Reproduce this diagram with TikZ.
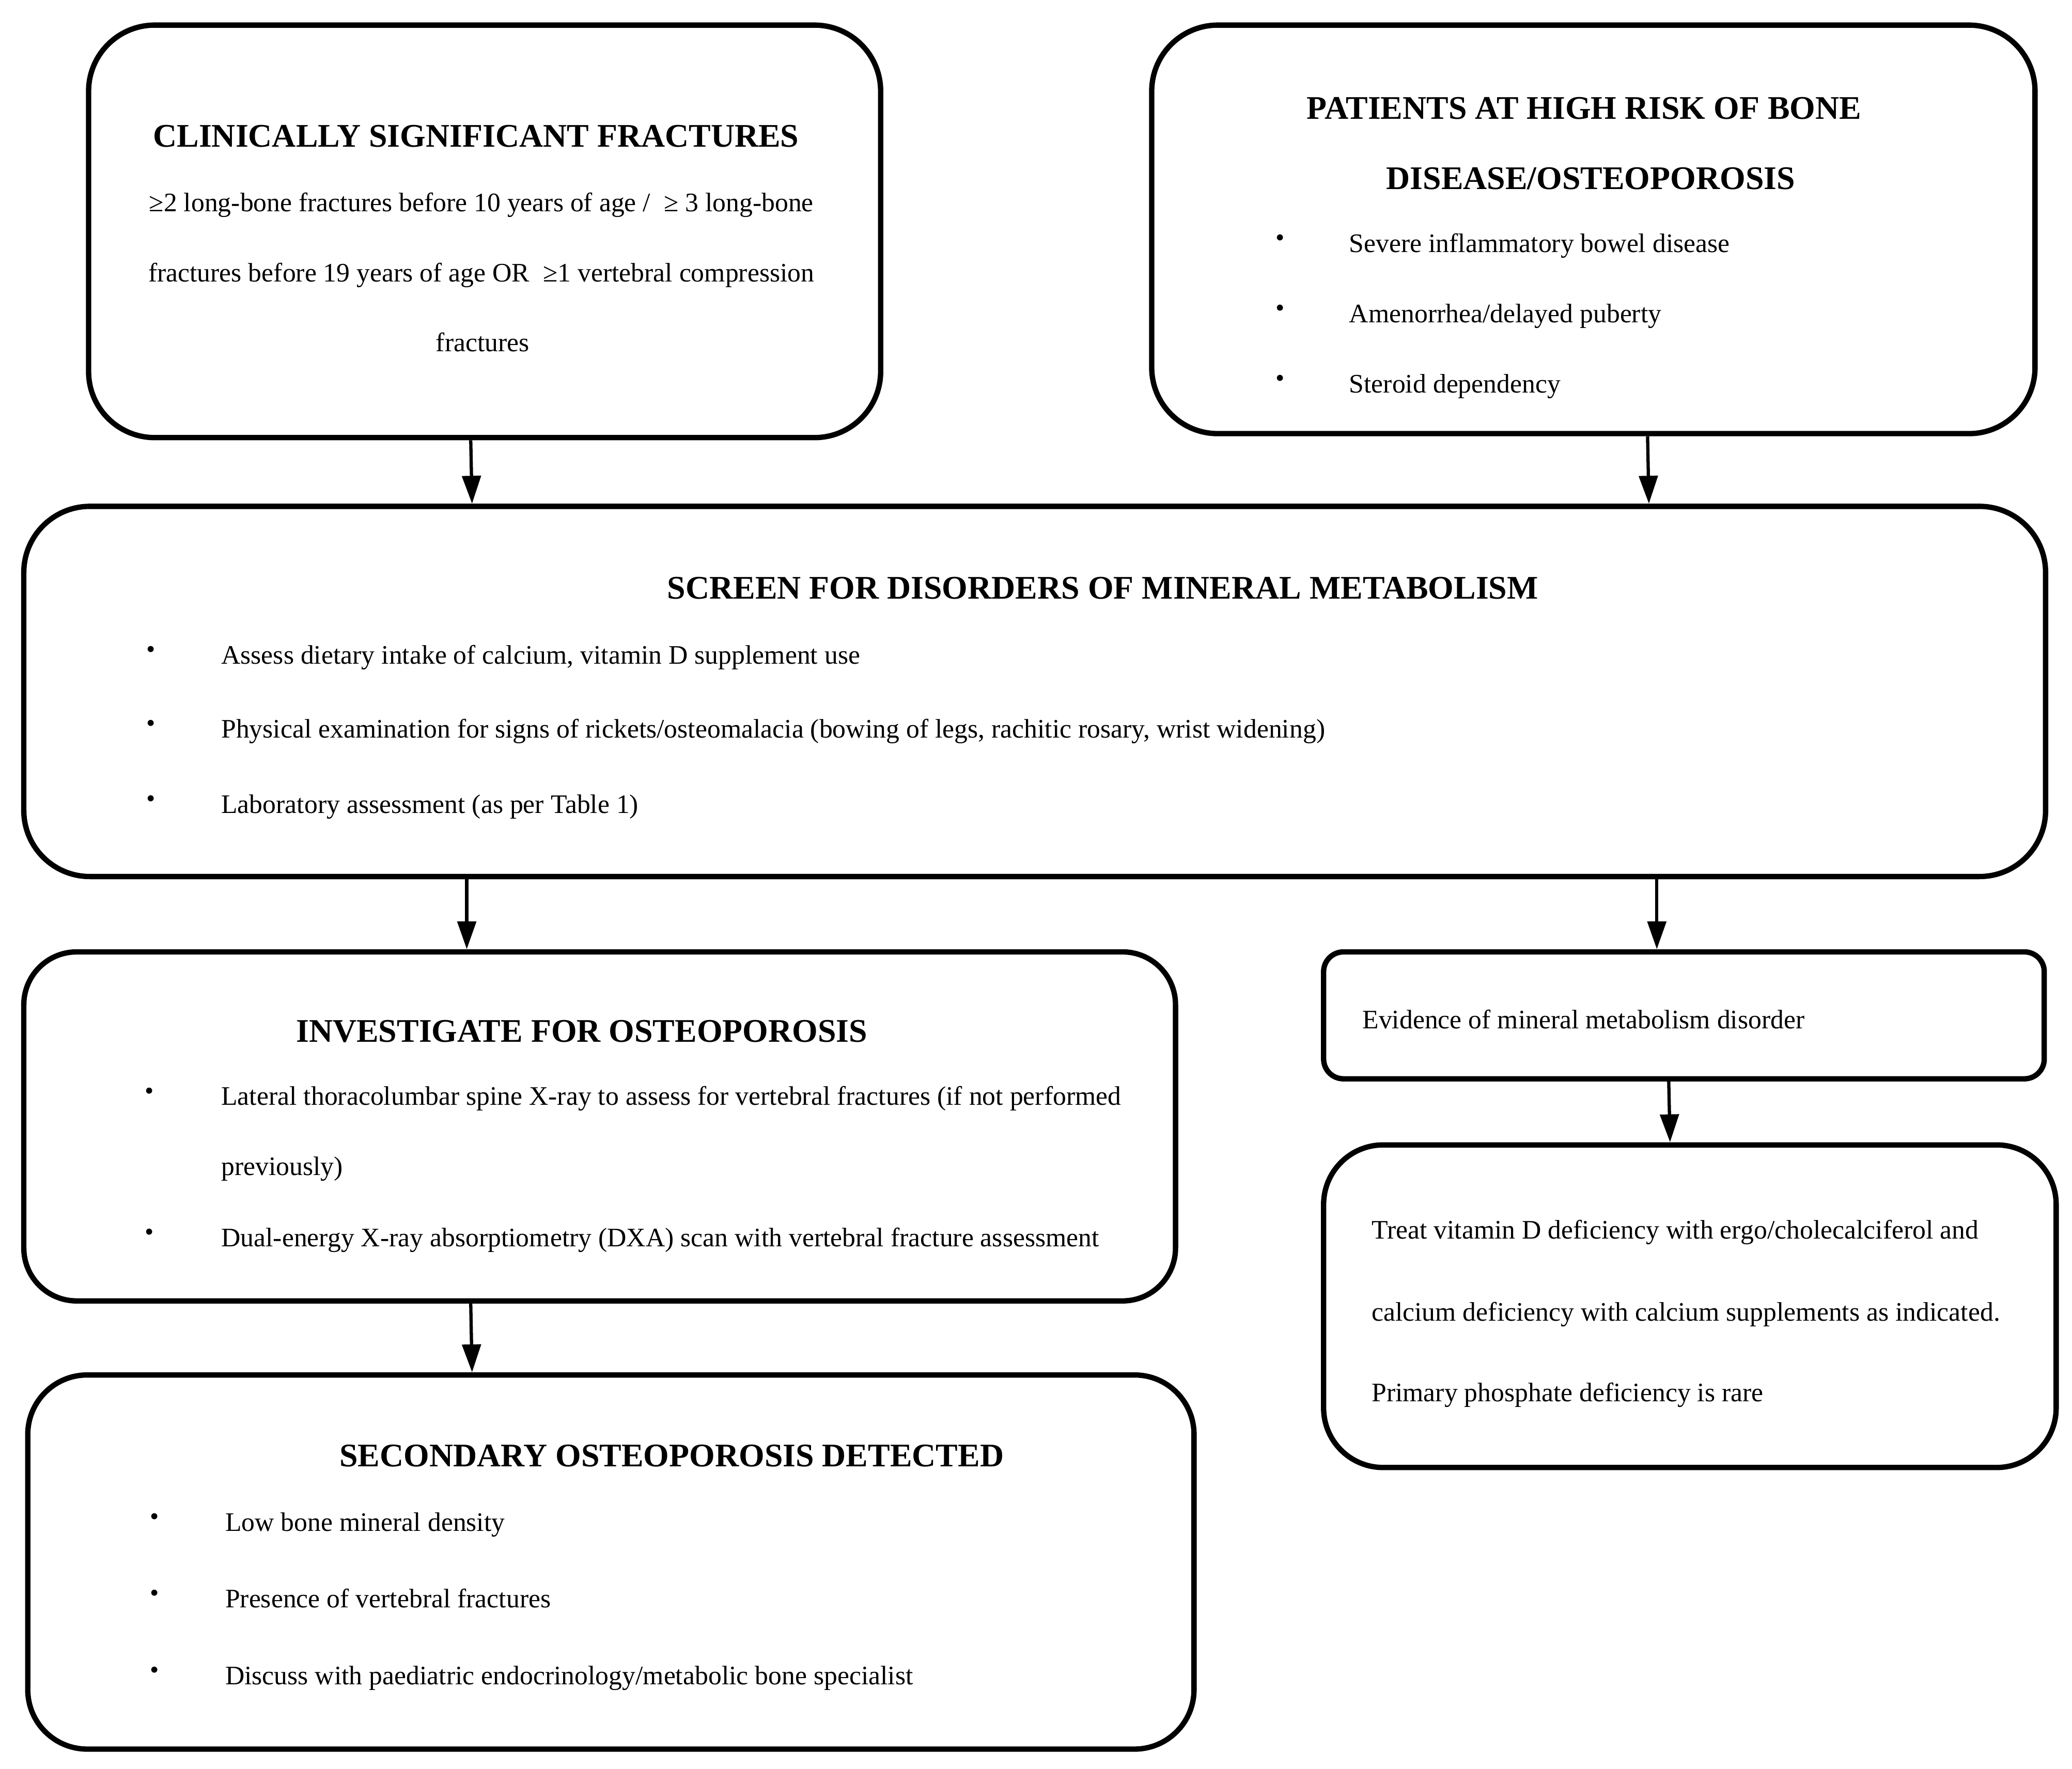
\documentclass[tikz,border=0pt]{standalone}
\usepackage{fontspec}
\setmainfont{Liberation Serif}
\usetikzlibrary{arrows.meta}
\begin{document}
\begin{tikzpicture}[x=0.02cm,y=-0.02cm,
  box/.style={draw,line width=2.3pt,inner sep=0pt},
  txt/.style={inner sep=0pt,font=\fontsize{11.5}{13}\selectfont},
  ttl/.style={inner sep=0pt,font=\fontsize{14.2}{16}\selectfont\bfseries},
  bul/.style={inner sep=0pt,font=\fontsize{11}{12}\selectfont},
  arr/.style={line width=1.4pt,-{Triangle[length=12pt,width=8pt]}}]
\useasboundingbox (0,0) rectangle (1567,1338);
\newcommand{\mybox}[6]{%
  \node[box,rounded corners=#6,minimum width={(#4-#2)*0.02cm},minimum height={(#5-#3)*0.02cm}]
    (#1) at ({(#2+#4)/2},{(#3+#5)/2}) {};}
\mybox{b1}{67}{19}{666}{331}{1cm}
\mybox{b2}{871}{19}{1539}{328}{1cm}
\mybox{b3}{18}{383}{1547}{663}{1cm}
\mybox{b4}{18}{720}{889}{984}{0.8cm}
\mybox{b5}{1001}{720}{1546}{816}{0.3cm}
\mybox{b6}{1001}{866}{1555}{1110}{0.9cm}
\mybox{b7}{21}{1040}{903}{1323}{0.9cm}
% box 1
\node[ttl] (h1) at (360,103) {CLINICALLY SIGNIFICANT FRACTURES};
\node[txt,anchor=mid] (t11) at (364,156) {≥2 long-bone fractures before 10 years of age /\ \ ≥ 3 long-bone};
\node[txt,anchor=mid] (t12) at (364,209) {fractures before 19 years of age OR\ \ ≥1 vertebral compression};
\node[txt,anchor=mid] (t13) at (365,262) {fractures};
% box 2
\node[ttl] (h2a) at (1198,82) {PATIENTS AT HIGH RISK OF BONE};
\node[ttl] (h2b) at (1203,135) {DISEASE/OSTEOPOROSIS};
\node[bul] (d21) at (968,182) {•};
\node[txt,anchor=mid west] (t21) at (1020,187) {Severe inflammatory bowel disease};
\node[bul] (d22) at (968,235) {•};
\node[txt,anchor=mid west] (t22) at (1020,240) {Amenorrhea/delayed puberty};
\node[bul] (d23) at (968,288) {•};
\node[txt,anchor=mid west] (t23) at (1020,293) {Steroid dependency};
% box 3
\node[ttl] (h3) at (834,445) {SCREEN FOR DISORDERS OF MINERAL METABOLISM};
\node[bul] (d31) at (114,493) {•};
\node[txt,anchor=mid west] (t31) at (167,498) {Assess dietary intake of calcium, vitamin D supplement use};
\node[bul] (d32) at (114,549) {•};
\node[txt,anchor=mid west] (t32) at (167,554) {Physical examination for signs of rickets/osteomalacia (bowing of legs, rachitic rosary, wrist widening)};
\node[bul] (d33) at (114,606) {•};
\node[txt,anchor=mid west] (t33) at (167,611) {Laboratory assessment (as per Table 1)};
% box 4
\node[ttl] (h4) at (440,780) {INVESTIGATE FOR OSTEOPOROSIS};
\node[bul] (d41) at (113,827) {•};
\node[txt,anchor=mid west] (t41) at (167,832) {Lateral thoracolumbar spine X-ray to assess for vertebral fractures (if not performed};
\node[txt,anchor=mid west] (t42) at (167,885) {previously)};
\node[bul] (d43) at (113,934) {•};
\node[txt,anchor=mid west] (t43) at (167,939) {Dual-energy X-ray absorptiometry (DXA) scan with vertebral fracture assessment};
% box 5
\node[txt,anchor=mid west] (t51) at (1030,774) {Evidence of mineral metabolism disorder};
% box 6
\node[txt,anchor=mid west] (t61) at (1037,933) {Treat vitamin D deficiency with ergo/cholecalciferol and};
\node[txt,anchor=mid west] (t62) at (1037,995) {calcium deficiency with calcium supplements as indicated.};
\node[txt,anchor=mid west] (t63) at (1037,1056) {Primary phosphate deficiency is rare};
% box 7
\node[ttl] (h7) at (508,1101) {SECONDARY OSTEOPOROSIS DETECTED};
\node[bul] (d71) at (117,1149) {•};
\node[txt,anchor=mid west] (t71) at (170,1154) {Low bone mineral density};
\node[bul] (d72) at (117,1207) {•};
\node[txt,anchor=mid west] (t72) at (170,1212) {Presence of vertebral fractures};
\node[bul] (d73) at (117,1265) {•};
\node[txt,anchor=mid west] (t73) at (170,1270) {Discuss with paediatric endocrinology/metabolic bone specialist};
% connectors
\coordinate (x356) at (356,0);
\coordinate (x357) at (357,0);
\coordinate (x1246) at (1246,0);
\coordinate (x1247) at (1247,0);
\coordinate (x353) at (353,0);
\coordinate (x1253) at (1253,0);
\coordinate (x1262) at (1262,0);
\coordinate (x1263) at (1263,0);
\draw[arr] (b1.south -| x356) -- (b3.north -| x357);
\draw[arr] (b2.south -| x1246) -- (b3.north -| x1247);
\draw[arr] (b3.south -| x353) -- (b4.north -| x353);
\draw[arr] (b3.south -| x1253) -- (b5.north -| x1253);
\draw[arr] (b5.south -| x1262) -- (b6.north -| x1263);
\draw[arr] (b4.south -| x356) -- (b7.north -| x357);
\end{tikzpicture}
\end{document}
